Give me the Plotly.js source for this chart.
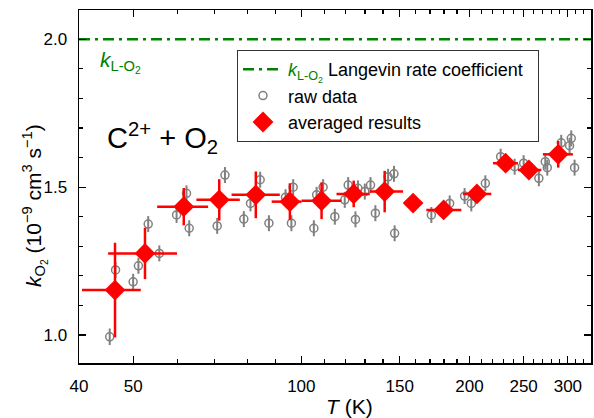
<!DOCTYPE html>
<html>
<head>
<meta charset="utf-8">
<script src="https://cdn.plot.ly/plotly-3.0.1.min.js"></script>
<style>html,body{margin:0;padding:0;background:#fff;}#chart{width:594px;height:418px;}</style>
</head>
<body>
<div id="chart"></div>
<script>
// Raw data (T in K, k in 1e-9 cm^3 s^-1)
const rawT = [45.4, 46.5, 50.0, 51.1, 53.2, 55.7, 59.8, 62.3, 63.0, 70.7, 73.0, 78.9, 81.1, 84.4, 87.5,
  93.7, 96.0, 96.7, 105.3, 106.5, 109.4, 114.8, 119.6, 121.3, 125.0, 126.3, 129.9, 133.0, 135.7,
  143.0, 146.5, 146.9, 170.9, 184.3, 196.0, 201.5, 213.5, 227.4, 240.9, 250.0, 266.2, 273.3, 275.6,
  291.9, 302.1, 304.2, 308.4];
const rawK = [0.994, 1.220, 1.180, 1.234, 1.375, 1.276, 1.406, 1.479, 1.361, 1.369, 1.541, 1.392, 1.445, 1.525, 1.378,
  1.466, 1.378, 1.500, 1.361, 1.474, 1.500, 1.400, 1.457, 1.507, 1.391, 1.496, 1.485, 1.507, 1.412,
  1.535, 1.545, 1.344, 1.406, 1.445, 1.470, 1.445, 1.513, 1.603, 1.569, 1.581, 1.530, 1.586, 1.566,
  1.650, 1.640, 1.665, 1.566];
const rawErr = [0.028, 0.027, 0.027, 0.027, 0.027, 0.027, 0.027, 0.027, 0.027, 0.027, 0.027, 0.027, 0.027, 0.027, 0.027,
  0.027, 0.027, 0.027, 0.027, 0.027, 0.027, 0.027, 0.027, 0.027, 0.027, 0.027, 0.027, 0.027, 0.027,
  0.027, 0.027, 0.027, 0.027, 0.027, 0.027, 0.027, 0.027, 0.027, 0.027, 0.027, 0.027, 0.027, 0.027,
  0.027, 0.027, 0.027, 0.027];

// Averaged results
const avgT      = [46.4, 52.5, 61.6, 71.3, 82.9, 95.4, 108.7, 124.1, 141.0, 158.5, 179.8, 206.2, 232.1, 255.5, 288.3];
const avgK      = [1.152, 1.276, 1.434, 1.457, 1.474, 1.451, 1.454, 1.477, 1.485, 1.446, 1.423, 1.477, 1.581, 1.558, 1.611];
const avgTminus = [5.9, 7.4, 6.4, 6.4, 7.9, 6.9, 8.6, 8.5, 8.4, 0, 12.4, 11.6, 11.8, 11.3, 17.7];
const avgTplus  = [5.2, 7.4, 6.5, 6.3, 8.6, 4.7, 9.3, 8.5, 11.1, 0, 13.6, 12.6, 12.1, 13.4, 17.9];
const avgKerr   = [0.160, 0.087, 0.063, 0.070, 0.079, 0.062, 0.062, 0.045, 0.070, 0, 0, 0.020, 0.020, 0.020, 0.045];

// Langevin rate coefficient
const langevinT = [40, 330];
const langevinK = [2.0, 2.0];

// Ticks
const xTickVals = [40, 50, 100, 150, 200, 250, 300];
const xTickText = ["40", "50", "100", "150", "200", "250", "300"];
const xMinorVals = [60, 70, 80, 90, 110, 120, 130, 140, 160, 170, 180, 190, 210, 220, 230, 240, 260, 270, 280, 290, 310, 320];
const yTickVals = [1.0, 1.5, 2.0];
const yTickText = ["1.0", "1.5", "2.0"];

const FONT = "Liberation Sans, Arial, sans-serif";
const GREEN = "#008000";

const traces = [
  {
    x: langevinT, y: langevinK, type: "scatter", mode: "lines",
    name: "<span style=\"color:" + GREEN + "\"><i>k</i><sub>L-O<sub>2</sub></sub></span> Langevin rate coefficient&nbsp;&nbsp;",
    line: {color: GREEN, width: 2.5, dash: "11px,5px,3px,5px"},
    cliponaxis: true
  },
  {
    x: rawT, y: rawK, type: "scatter", mode: "markers", name: "raw data",
    marker: {symbol: "circle-open", size: 8, color: "#808080", line: {width: 1.5, color: "#808080"}},
    error_y: {type: "data", array: rawErr, visible: true, color: "#808080", thickness: 2, width: 0}
  },
  {
    x: avgT, y: avgK, type: "scatter", mode: "markers", name: "averaged results",
    marker: {symbol: "diamond", size: 16, color: "#ff0000"},
    error_x: {type: "data", symmetric: false, array: avgTplus, arrayminus: avgTminus, visible: true, color: "#ff0000", thickness: 2.5, width: 0},
    error_y: {type: "data", array: avgKerr, visible: true, color: "#ff0000", thickness: 2.5, width: 0}
  }
];

const layout = {
  width: 594, height: 418,
  margin: {l: 79, r: 3, t: 10, b: 55, pad: 0},
  paper_bgcolor: "#fff", plot_bgcolor: "#fff",
  font: {family: FONT, size: 17, color: "#000"},
  showlegend: true,
  legend: {
    x: 0.3086, y: 0.8867, xanchor: "left", yanchor: "top",
    bgcolor: "#fff", bordercolor: "#333", borderwidth: 1,
    font: {family: FONT, size: 18, color: "#000"},
    itemwidth: 40, tracegroupgap: 0
  },
  xaxis: {
    type: "log", range: [Math.log10(40), Math.log10(330)],
    tickmode: "array", tickvals: xTickVals, ticktext: xTickText,
    ticks: "inside", ticklen: 7, tickwidth: 1.2, tickcolor: "#000",
    minor: {tickmode: "array", tickvals: xMinorVals, ticks: "inside", ticklen: 4, tickwidth: 1.2, tickcolor: "#000", showgrid: false},
    showline: true, linecolor: "#000", linewidth: 1.5, mirror: "ticks",
    showgrid: false, zeroline: false,
    tickfont: {family: FONT, size: 17, color: "#000"},
    ticklabelstandoff: 7
  },
  yaxis: {
    range: [0.9053, 2.0991],
    tickmode: "array", tickvals: yTickVals, ticktext: yTickText,
    ticks: "inside", ticklen: 7, tickwidth: 1.2, tickcolor: "#000",
    minor: {dtick: 0.1, tick0: 0, ticks: "inside", ticklen: 4, tickwidth: 1.2, tickcolor: "#000", showgrid: false},
    showline: true, linecolor: "#000", linewidth: 1.5, mirror: "ticks",
    showgrid: false, zeroline: false,
    tickfont: {family: FONT, size: 17, color: "#000"},
    ticklabelstandoff: 7
  },
  annotations: [
    {text: "<i>T</i> (K)", xref: "paper", yref: "paper", x: 0.528, y: -0.122, xanchor: "center", yanchor: "middle",
     showarrow: false, font: {family: FONT, size: 21, color: "#000"}},
    {text: "<i>k</i><sub>O<sub>2</sub></sub> (10<sup>−9</sup> cm<sup>3</sup> s<sup>−1</sup>)", xref: "paper", yref: "paper",
     x: -0.086, y: 0.4476, xanchor: "center", yanchor: "middle", textangle: -90,
     showarrow: false, font: {family: FONT, size: 21, color: "#000"}},
    {text: "C<sup>2+</sup> + O<sub>2</sub>", xref: "paper", yref: "paper", x: 0.0508, y: 0.637, xanchor: "left", yanchor: "middle",
     showarrow: false, font: {family: FONT, size: 29, color: "#000"}},
    {text: "<i>k</i><sub>L-O<sub>2</sub></sub>", xref: "paper", yref: "paper", x: 0.037, y: 0.853, xanchor: "left", yanchor: "middle",
     showarrow: false, font: {family: FONT, size: 21, color: GREEN}}
  ]
};

Plotly.newPlot("chart", traces, layout, {displayModeBar: false, staticPlot: true});
</script>
</body>
</html>
